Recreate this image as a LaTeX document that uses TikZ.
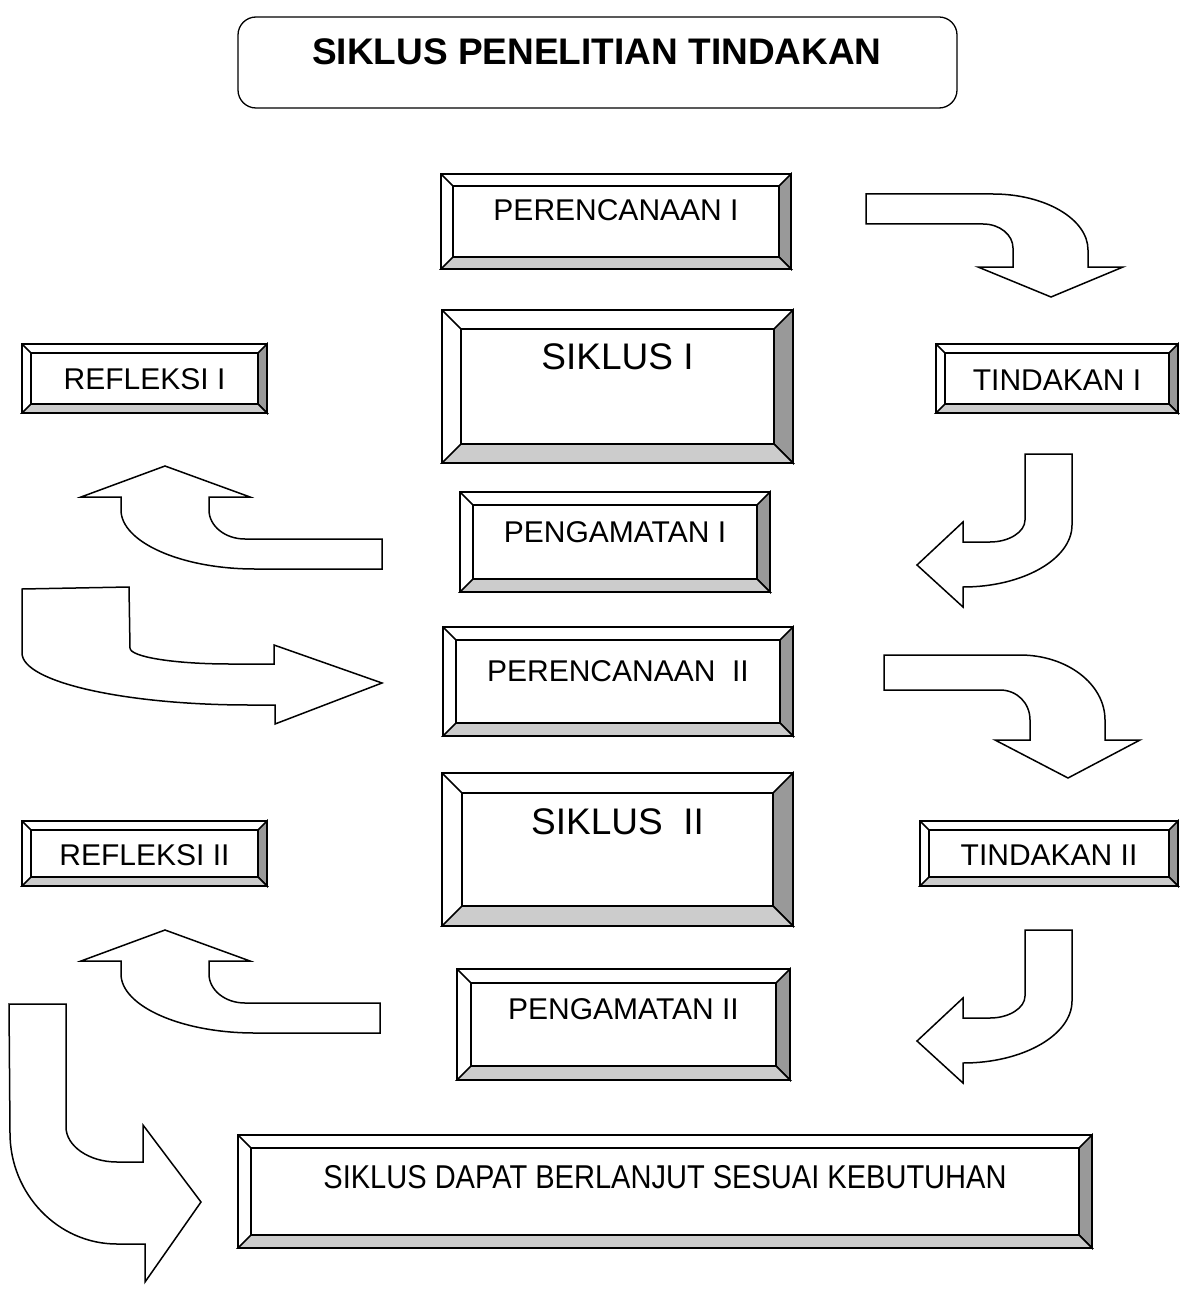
\documentclass[tikz,border=0pt]{standalone}
\usepackage{fontspec}
\setmainfont{Liberation Sans}
\usetikzlibrary{calc}
\definecolor{bevR}{HTML}{999999}
\definecolor{bevB}{HTML}{CCCCCC}
\tikzset{
  bev/.style={line width=1.6pt, line join=miter},
  lbl/.style={inner sep=0pt, font=\fontsize{30}{36}\selectfont},
  lblbig/.style={inner sep=0pt, font=\fontsize{37}{44}\selectfont},
  blockarrow/.style={draw=black, fill=white, line width=1.5pt, line join=miter},
}
% #1 name, #2 x1, #3 y1, #4 x2, #5 y2, #6 inset, #7 text y, #8 style, #9 text
\newcommand{\bevbox}[9]{%
  \filldraw[bev, fill=white] (#2,#3) rectangle (#4,#5);
  \filldraw[bev, fill=bevR] (#4,#3) -- (#4,#5) -- ({#4-#6},{#5-#6}) -- ({#4-#6},{#3+#6}) -- cycle;
  \filldraw[bev, fill=bevB] (#2,#5) -- (#4,#5) -- ({#4-#6},{#5-#6}) -- ({#2+#6},{#5-#6}) -- cycle;
  \draw[bev] (#2,#3) -- ({#2+#6},{#3+#6});
  \draw[bev] ({#2+#6},{#3+#6}) rectangle ({#4-#6},{#5-#6});
  \node[#8] (#1) at ({(#2+#4)/2},#7) {#9};
}
\begin{document}
\begin{tikzpicture}[x=1pt,y=-1pt]
\useasboundingbox[fill=white] (0,0) rectangle (1184,1289);

% title
\draw[line width=1.3pt, rounded corners=18pt] (238,17) rectangle (957,108);
\node[inner sep=0pt, font=\fontsize{37}{44}\selectfont\bfseries] (title) at (597,52) {SIKLUS PENELITIAN TINDAKAN};

% boxes
\bevbox{per1}{441}{174}{791}{269}{12}{210}{lbl}{PERENCANAAN I}
\bevbox{sik1}{442}{310}{793}{463}{19}{357}{lblbig}{SIKLUS I}
\bevbox{ref1}{22}{344}{267}{413}{9}{379}{lbl}{REFLEKSI I}
\bevbox{tin1}{936}{344}{1178}{413}{9}{380}{lbl}{TINDAKAN I}
\bevbox{pen1}{460}{492}{770}{592}{13}{532}{lbl}{PENGAMATAN I}
\bevbox{per2}{443}{627}{793}{736}{13}{671}{lbl}{PERENCANAAN\ \ II}
\bevbox{sik2}{442}{773}{793}{926}{20}{822}{lblbig}{SIKLUS\ \ II}
\bevbox{ref2}{22}{821}{267}{886}{9}{855}{lbl}{REFLEKSI II}
\bevbox{tin2}{920}{821}{1178}{886}{9}{855}{lbl}{TINDAKAN II}
\bevbox{pen2}{457}{969}{790}{1080}{14}{1009}{lbl}{PENGAMATAN II}
\bevbox{lanjut}{238}{1135}{1092}{1248}{13}{1177}{lbl}{\scalebox{0.88}[1]{\fontsize{33}{40}\selectfont SIKLUS DAPAT BERLANJUT SESUAI KEBUTUHAN}}

% arrow 1: PERENCANAAN I -> TINDAKAN I
\draw[blockarrow] (866,194) -- (993,194) .. controls (1045,194) and (1088,219) .. (1088,250)
  -- (1088,267) -- (1123,267) -- (1051,297) -- (978,267) -- (1013,267) -- (1013,248)
  .. controls (1013,235) and (1000,224) .. (983,224) -- (866,224) -- cycle;

% arrow 2: TINDAKAN I -> PENGAMATAN I
\draw[blockarrow] (1025,454) -- (1072,454) -- (1072,525) .. controls (1072,559) and (1023,587) .. (963,587)
  -- (963,607) -- (917,565) -- (963,522) -- (963,542) -- (990,542)
  .. controls (1009,542) and (1025,532) .. (1025,520) -- cycle;

% arrow 3: PENGAMATAN I -> REFLEKSI I
\draw[blockarrow] (165,466) -- (250,497) -- (209,497) -- (209,510)
  .. controls (209,526) and (225,539) .. (245,539) -- (382,539) -- (382,569) -- (255,569)
  .. controls (181,569) and (121,542) .. (121,510) -- (121,497) -- (81,497) -- cycle;

% arrow 4: REFLEKSI I -> PERENCANAAN II
\draw[blockarrow] (22,589) -- (129,587) -- (130,648) .. controls (130,657) and (175,664) .. (230,664)
  -- (274,664) -- (274,645) -- (382,683) -- (275,724) -- (275,705) -- (250,705)
  .. controls (125,705) and (22,682) .. (22,653) -- cycle;

% arrow 5: PERENCANAAN II -> TINDAKAN II
\draw[blockarrow] (884,655) -- (1020,655) .. controls (1067,655) and (1105,684) .. (1105,720)
  -- (1105,740) -- (1140,740) -- (1068,778) -- (995,740) -- (1030,740) -- (1030,720)
  .. controls (1030,703) and (1017,690) .. (1000,690) -- (884,690) -- cycle;

% arrow 6: TINDAKAN II -> PENGAMATAN II
\begin{scope}[yshift=-476pt]
\draw[blockarrow] (1025,454) -- (1072,454) -- (1072,525) .. controls (1072,559) and (1023,587) .. (963,587)
  -- (963,607) -- (917,565) -- (963,522) -- (963,542) -- (990,542)
  .. controls (1009,542) and (1025,532) .. (1025,520) -- cycle;
\end{scope}

% arrow 7: PENGAMATAN II -> REFLEKSI II
\begin{scope}[yshift=-464pt]
\draw[blockarrow] (165,466) -- (250,497) -- (209,497) -- (209,510)
  .. controls (209,526) and (225,539) .. (245,539) -- (380,539) -- (380,569) -- (255,569)
  .. controls (181,569) and (121,542) .. (121,510) -- (121,497) -- (81,497) -- cycle;
\end{scope}

% arrow 8: REFLEKSI II -> SIKLUS DAPAT BERLANJUT
\draw[blockarrow] (9,1004) -- (66,1004) -- (66,1127) .. controls (66,1146) and (89,1162) .. (117,1162)
  -- (143,1162) -- (143,1125) -- (201,1202) -- (145,1282) -- (145,1244) -- (117,1244)
  .. controls (58,1244) and (10,1194) .. (10,1133) -- cycle;
\end{tikzpicture}
\end{document}
